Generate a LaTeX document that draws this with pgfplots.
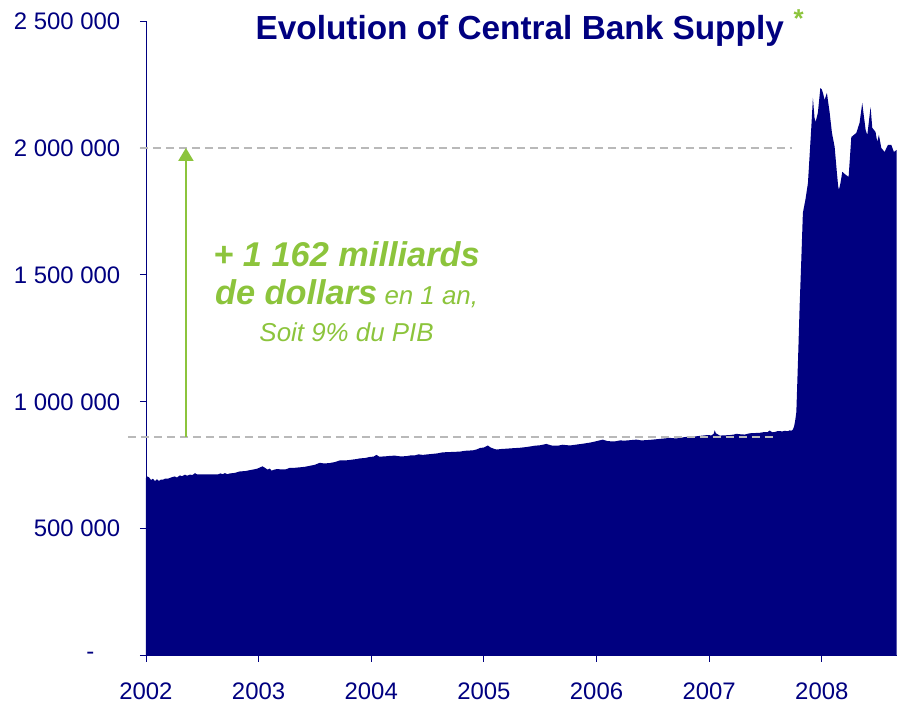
\documentclass[border=0pt]{standalone}
\usepackage{fontspec}
\setmainfont{Liberation Sans}
\usepackage{pgfplots}
\pgfplotsset{compat=1.18}
\usetikzlibrary{arrows.meta}
\definecolor{navyc}{RGB}{0,0,128}
\definecolor{greenc}{RGB}{140,196,60}
\definecolor{dashc}{RGB}{185,185,185}

\pgfplotstableread{
year value
2002.000 700000
2002.010 706000
2002.027 703000
2002.045 692000
2002.062 697000
2002.080 688000
2002.098 695000
2002.115 688000
2002.133 694000
2002.151 693000
2002.169 697000
2002.200 698000
2002.230 703000
2002.257 706000
2002.275 702000
2002.302 710000
2002.320 707000
2002.346 713000
2002.365 709000
2002.390 713000
2002.415 712000
2002.435 719000
2002.455 714000
2002.500 714000
2002.568 714000
2002.640 714000
2002.660 718000
2002.680 715000
2002.701 719000
2002.725 715000
2002.745 718000
2002.790 720000
2002.834 726000
2002.880 727000
2002.923 731000
2002.960 734000
2002.990 737000
2003.035 746000
2003.060 739000
2003.080 733000
2003.100 737000
2003.115 729000
2003.140 733000
2003.162 735000
2003.200 734000
2003.240 734000
2003.278 740000
2003.320 740000
2003.366 742000
2003.410 744000
2003.455 748000
2003.500 752000
2003.544 760000
2003.580 757000
2003.633 759000
2003.680 763000
2003.721 769000
2003.770 769000
2003.810 771000
2003.860 774000
2003.899 777000
2003.950 779000
2003.988 783000
2004.020 784000
2004.047 791000
2004.070 784000
2004.121 785000
2004.165 787000
2004.209 788000
2004.260 785000
2004.313 786000
2004.350 789000
2004.387 789000
2004.420 793000
2004.458 791000
2004.500 793000
2004.547 795000
2004.590 797000
2004.635 801000
2004.690 802000
2004.742 803000
2004.790 804000
2004.830 807000
2004.870 808000
2004.904 809000
2004.940 813000
2004.964 818000
2005.000 820000
2005.035 828000
2005.060 820000
2005.090 815000
2005.112 812000
2005.150 814000
2005.185 815000
2005.250 817000
2005.319 819000
2005.380 822000
2005.452 827000
2005.500 829000
2005.555 834000
2005.600 828000
2005.656 827000
2005.700 831000
2005.762 828000
2005.830 832000
2005.895 836000
2005.950 840000
2006.000 845000
2006.055 851000
2006.100 845000
2006.162 844000
2006.210 848000
2006.250 847000
2006.300 849000
2006.354 851000
2006.400 848000
2006.472 850000
2006.520 852000
2006.561 854000
2006.610 856000
2006.650 858000
2006.700 856000
2006.739 857000
2006.780 861000
2006.827 863000
2006.880 864000
2006.943 867000
2006.980 869000
2007.020 868000
2007.040 874000
2007.049 888000
2007.060 876000
2007.094 867000
2007.140 868000
2007.183 869000
2007.220 871000
2007.241 874000
2007.280 872000
2007.315 871000
2007.360 876000
2007.404 877000
2007.450 878000
2007.492 881000
2007.520 881000
2007.537 887000
2007.560 880000
2007.581 881000
2007.610 885000
2007.626 885000
2007.650 883000
2007.670 886000
2007.700 884000
2007.714 888000
2007.730 886000
2007.744 891000
2007.755 905000
2007.765 930000
2007.774 960000
2007.790 1180000
2007.803 1374000
2007.818 1560000
2007.832 1744000
2007.856 1800000
2007.877 1862000
2007.893 1980000
2007.907 2083000
2007.921 2197000
2007.935 2120000
2007.945 2102000
2007.965 2138000
2007.987 2236000
2008.000 2230000
2008.010 2217000
2008.025 2189000
2008.045 2217000
2008.070 2138000
2008.090 2059000
2008.114 2004000
2008.134 1902000
2008.145 1850000
2008.152 1835000
2008.165 1860000
2008.182 1906000
2008.212 1894000
2008.238 1886000
2008.262 2043000
2008.306 2059000
2008.335 2098000
2008.359 2177000
2008.375 2120000
2008.389 2071000
2008.404 2051000
2008.433 2161000
2008.448 2079000
2008.477 2063000
2008.492 2024000
2008.507 2051000
2008.528 2000000
2008.557 1984000
2008.587 2012000
2008.617 2012000
2008.640 1984000
2008.664 1992000
}\supply

\begin{document}
\begin{tikzpicture}
\begin{axis}[
    scale only axis, width=751bp, height=635bp,
    xmin=2002, xmax=2008.664, ymin=0, ymax=2500000,
    clip=false,
    axis x line=bottom, axis y line=left,
    axis line style={-, navyc, line width=0.8bp},
    tick align=outside, major tick length=6bp,
    tick style={navyc, line width=0.8bp},
    xtick={2002,2003,2004,2005,2006,2007,2008},
    xticklabels={2002,2003,2004,2005,2006,2007,2008},
    ytick={0,500000,1000000,1500000,2000000,2500000},
    yticklabels={-\hspace*{26bp},500 000,1 000 000,1 500 000,2 000 000,2 500 000},
    scaled y ticks=false,
    ticklabel style={font=\fontsize{24}{28}\selectfont, text=navyc, inner sep=0pt},
    yticklabel style={xshift=-19.5bp},
    xticklabel style={yshift=-20.5bp},
]
\addplot[fill=navyc, draw=none] table[x=year, y=value] {\supply} \closedcycle;

\draw[dashc, line width=1.5bp, dash pattern=on 8bp off 5bp]
    (axis cs:2001.947,2000000) -- (axis cs:2007.732,2000000);
\draw[dashc, line width=1.5bp, dash pattern=on 8bp off 5bp]
    (axis cs:2001.840,862000) -- (axis cs:2007.599,862000);
\draw[greenc, line width=2bp, -{Triangle[width=15bp,length=13bp]}]
    (axis cs:2002.355,862000) -- (axis cs:2002.355,2000000);

\node[anchor=base, text=navyc, font=\fontsize{33.5}{40}\selectfont\bfseries]
    at (axis cs:2005.318,2425197) {Evolution of Central Bank Supply};
\node[text=greenc, font=\fontsize{26}{30}\selectfont\bfseries]
    at (axis cs:2007.794,2510000) {*};

\node[anchor=base, text=greenc, font=\fontsize{34.5}{40}\selectfont\bfseries\itshape]
    at (axis cs:2003.781,1532677) {+ 1 162 milliards};
\node[anchor=base, text=greenc]
    at (axis cs:2003.781,1381890) {{\fontsize{34.5}{40}\selectfont\bfseries\itshape de dollars}{\fontsize{26}{30}\selectfont\itshape{} en 1 an,}};
\node[anchor=base, text=greenc, font=\fontsize{26}{30}\selectfont\itshape]
    at (axis cs:2003.781,1237400) {Soit 9\% du PIB};
\end{axis}
\path (current axis.south west) ++(-146bp,-48bp) rectangle ++(897bp,704bp);
\end{tikzpicture}
\end{document}
